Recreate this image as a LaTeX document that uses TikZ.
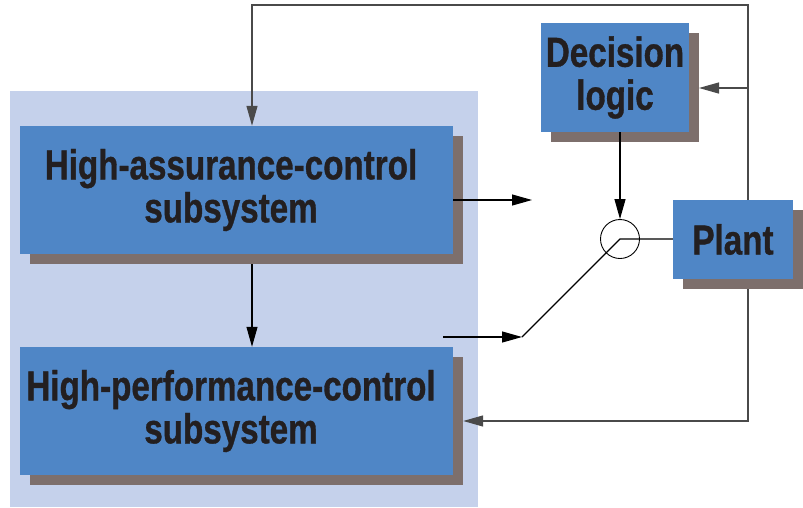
\documentclass[tikz,border=0pt]{standalone}
\usepackage{fontspec}
\setmainfont{Liberation Sans}
\newfontfamily\condfont{Liberation Sans}[FakeStretch=0.79, FakeBold=0.8, UprightFont=* Bold]
\usetikzlibrary{arrows.meta,shadows,calc}
\definecolor{panelc}{HTML}{C5D1EB}
\definecolor{boxc}{HTML}{4F86C6}
\definecolor{shadowc}{HTML}{7D6F6C}
\definecolor{inkc}{HTML}{231F20}
\definecolor{fbc}{HTML}{4A4A4A}
\tikzset{
  block/.style={fill=boxc, draw=none, inner sep=0pt, align=center,
    text=inkc, font=\condfont\fontsize{42}{43}\selectfont,
    drop shadow={shadow xshift=10pt, shadow yshift=-10pt, fill=shadowc, opacity=1}},
  conn/.style={line width=1.1pt, draw=black},
  fb/.style={line width=1.3pt, draw=fbc},
  tip/.style={-{Triangle[length=20pt, width=11pt]}},
}
\begin{document}
\begin{tikzpicture}[x=1pt, y=-1pt]
  \useasboundingbox (0,0) rectangle (803,507);
  % supervisory panel behind the two controllers
  \fill[panelc] (10,91) rectangle (478,507);

  % blocks
  \node[block, minimum width=433pt, minimum height=128pt] (ha) at (236.5,190)
    {\hspace*{-11pt}High-assurance-control\\\hspace*{-11pt}subsystem};
  \node[block, minimum width=433pt, minimum height=128pt] (hp) at (236.5,411)
    {\hspace*{-11pt}High-performance-control\\\hspace*{-11pt}subsystem};
  \node[block, minimum width=148pt, minimum height=109pt] (dl) at (615,77.5)
    {Decision\\logic};
  \node[block, minimum width=120pt, minimum height=79pt] (plant) at (733,239.5)
    {Plant};

  % switch
  \node[circle, draw=black, line width=0.9pt, minimum size=39pt, inner sep=0pt] (sel) at (620,239) {};

  % free line ends
  \coordinate (haout) at (532,200);
  \coordinate (hpout) at (443,337);
  \coordinate (sw) at (522,337);
  \coordinate (top) at (748,5);
  \coordinate (bot) at (748,421);

  % controller outputs and switch
  \draw[conn, tip] ([yshift=-10pt]ha.east) -- (haout);
  \draw[conn, tip] (hpout) -- (sw);
  \draw[conn] (sw) -- (sel.center) -- (plant.west |- sel.center);
  \draw[conn, tip] (dl.south -| sel) -- (sel.north);
  \draw[conn, tip] ([xshift=15.5pt, yshift=-10pt]ha.south) -- ([xshift=15.5pt]hp.north);

  % plant feedback
  \draw[fb, tip] (plant.north -| top) -- (top) -| ([xshift=15.5pt]ha.north);
  \draw[fb, tip] (top |- 0,88) -- (699,88);
  \draw[fb, tip] ([yshift=-10pt]plant.south -| top) -- (bot) -- ([xshift=10pt, yshift=-10pt]hp.east);
\end{tikzpicture}
\end{document}
